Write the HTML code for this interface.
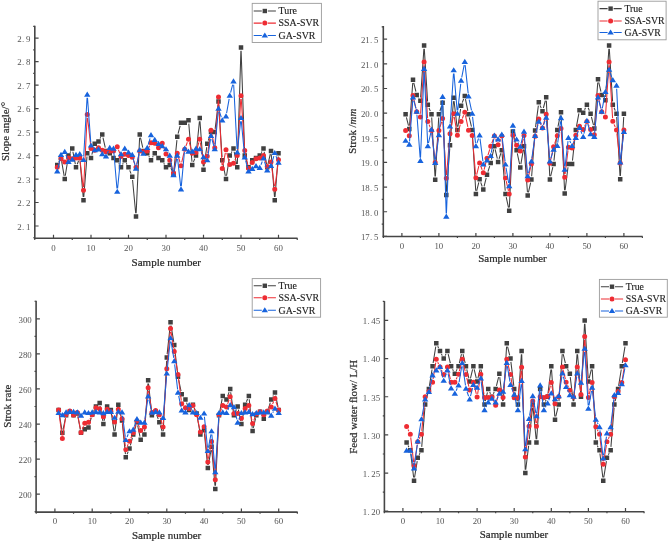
<!DOCTYPE html>
<html><head><meta charset="utf-8"><title>Prediction comparison</title>
<style>
html,body{margin:0;padding:0;background:#fff;}
body{width:669px;height:543px;overflow:hidden;font-family:"Liberation Serif",serif;}
svg{display:block;filter:blur(0.3px);}
</style></head><body>
<svg width="669" height="543" viewBox="0 0 669 543">
<rect width="669" height="543" fill="#fff"/>
<g stroke="#464646" stroke-width="1.6" fill="none" stroke-linecap="butt">
<path d="M34.80 25.80V238.90"/>
<path d="M34.20 238.30H297.55"/>
<path stroke-width="1.2" d="M53.50 238.30v-3.6M91.00 238.30v-3.6M128.50 238.30v-3.6M166.00 238.30v-3.6M203.50 238.30v-3.6M241.00 238.30v-3.6M278.50 238.30v-3.6M34.75 238.30v1.6M72.25 238.30v1.6M109.75 238.30v1.6M147.25 238.30v1.6M184.75 238.30v1.6M222.25 238.30v1.6M259.75 238.30v1.6M297.25 238.30v1.6M34.80 226.00h3.8M34.80 202.52h3.8M34.80 179.05h3.8M34.80 155.58h3.8M34.80 132.10h3.8M34.80 108.62h3.8M34.80 85.15h3.8M34.80 61.68h3.8M34.80 38.20h3.8M34.80 237.74h-1.6M34.80 214.26h-1.6M34.80 190.79h-1.6M34.80 167.31h-1.6M34.80 143.84h-1.6M34.80 120.36h-1.6M34.80 96.89h-1.6M34.80 73.41h-1.6M34.80 49.94h-1.6M34.80 26.46h-1.6"/>
</g>
<g fill="#555" font-family="Liberation Serif, serif">
<text x="53.50" y="250.90" font-size="8.9" text-anchor="middle">0</text>
<text x="88.83" y="250.90" font-size="8.9" text-anchor="middle">1</text><text x="93.17" y="250.90" font-size="8.9" text-anchor="middle">0</text>
<text x="126.33" y="250.90" font-size="8.9" text-anchor="middle">2</text><text x="130.68" y="250.90" font-size="8.9" text-anchor="middle">0</text>
<text x="163.83" y="250.90" font-size="8.9" text-anchor="middle">3</text><text x="168.18" y="250.90" font-size="8.9" text-anchor="middle">0</text>
<text x="201.33" y="250.90" font-size="8.9" text-anchor="middle">4</text><text x="205.68" y="250.90" font-size="8.9" text-anchor="middle">0</text>
<text x="238.83" y="250.90" font-size="8.9" text-anchor="middle">5</text><text x="243.18" y="250.90" font-size="8.9" text-anchor="middle">0</text>
<text x="276.32" y="250.90" font-size="8.9" text-anchor="middle">6</text><text x="280.68" y="250.90" font-size="8.9" text-anchor="middle">0</text>
<text x="19.53" y="229.80" font-size="8.9" text-anchor="middle">2</text><text x="22.00" y="229.80" font-size="8.9" text-anchor="start">.</text><text x="28.23" y="229.80" font-size="8.9" text-anchor="middle">1</text>
<text x="19.53" y="206.32" font-size="8.9" text-anchor="middle">2</text><text x="22.00" y="206.32" font-size="8.9" text-anchor="start">.</text><text x="28.23" y="206.32" font-size="8.9" text-anchor="middle">2</text>
<text x="19.53" y="182.85" font-size="8.9" text-anchor="middle">2</text><text x="22.00" y="182.85" font-size="8.9" text-anchor="start">.</text><text x="28.23" y="182.85" font-size="8.9" text-anchor="middle">3</text>
<text x="19.53" y="159.38" font-size="8.9" text-anchor="middle">2</text><text x="22.00" y="159.38" font-size="8.9" text-anchor="start">.</text><text x="28.23" y="159.38" font-size="8.9" text-anchor="middle">4</text>
<text x="19.53" y="135.90" font-size="8.9" text-anchor="middle">2</text><text x="22.00" y="135.90" font-size="8.9" text-anchor="start">.</text><text x="28.23" y="135.90" font-size="8.9" text-anchor="middle">5</text>
<text x="19.53" y="112.42" font-size="8.9" text-anchor="middle">2</text><text x="22.00" y="112.42" font-size="8.9" text-anchor="start">.</text><text x="28.23" y="112.42" font-size="8.9" text-anchor="middle">6</text>
<text x="19.53" y="88.95" font-size="8.9" text-anchor="middle">2</text><text x="22.00" y="88.95" font-size="8.9" text-anchor="start">.</text><text x="28.23" y="88.95" font-size="8.9" text-anchor="middle">7</text>
<text x="19.53" y="65.48" font-size="8.9" text-anchor="middle">2</text><text x="22.00" y="65.48" font-size="8.9" text-anchor="start">.</text><text x="28.23" y="65.48" font-size="8.9" text-anchor="middle">8</text>
<text x="19.53" y="42.00" font-size="8.9" text-anchor="middle">2</text><text x="22.00" y="42.00" font-size="8.9" text-anchor="start">.</text><text x="28.23" y="42.00" font-size="8.9" text-anchor="middle">9</text>
</g>
<g fill="#2a2a2a" stroke="#2a2a2a" stroke-width="0.22" font-family="Liberation Serif, serif" font-size="11.00">
<text x="166.30" y="265.70" text-anchor="middle">Sample number</text>
<text transform="translate(9.30 131.50) rotate(-90)" text-anchor="middle">Slope angle/°</text>
</g>
<path fill="none" stroke="#404040" stroke-width="1.05" d="M58.80 162.05L59.45 160.84M61.58 161.17L64.17 175.80M65.27 175.79L67.98 158.83M70.05 152.66L70.70 151.45M72.90 151.77L75.35 164.08M77.22 164.25L78.53 160.99M80.04 161.21L83.21 196.89M83.76 196.89L86.99 156.52M91.85 154.73L93.90 147.03M100.05 138.58L100.70 137.36M102.98 137.66L105.27 147.66M118.80 163.18L119.45 164.40M122.55 164.40L123.20 163.18M126.30 163.18L126.95 164.40M129.72 170.38L131.03 173.64M132.56 179.99L135.69 213.32M136.15 213.31L139.60 137.74M140.48 137.66L142.77 147.66M148.80 156.14L149.45 157.36M152.55 157.36L153.20 156.14M163.80 163.18L164.45 164.40M170.97 168.03L172.28 171.29M173.83 171.07L176.92 140.08M178.10 133.61L180.15 125.90M188.78 123.65L191.97 161.68M193.47 161.90L194.78 158.64M196.33 152.29L199.42 121.30M199.99 121.31L203.26 166.37M203.97 166.39L206.78 147.10M208.25 140.69L210.00 135.24M215.15 128.82L218.10 104.86M218.71 104.88L222.04 156.98M222.90 163.51L225.35 175.81M226.52 175.79L229.23 158.83M231.30 152.66L231.95 151.45M234.15 151.77L236.60 164.08M237.35 164.01L240.90 50.89M241.11 50.89L244.64 152.28M245.75 158.72L247.50 164.17M250.05 164.40L250.70 163.18M261.30 152.66L261.95 151.45M264.15 151.77L266.60 164.08M267.98 164.10L270.27 154.10M271.25 154.17L274.50 196.89M275.01 196.89L278.24 156.52"/>
<path fill="#404040" d="M55.00 162.72h4.5v4.5h-4.5zM58.75 155.67h4.5v4.5h-4.5zM62.50 176.80h4.5v4.5h-4.5zM66.25 153.33h4.5v4.5h-4.5zM70.00 146.28h4.5v4.5h-4.5zM73.75 165.06h4.5v4.5h-4.5zM77.50 155.67h4.5v4.5h-4.5zM81.25 197.93h4.5v4.5h-4.5zM85.00 150.98h4.5v4.5h-4.5zM88.75 155.67h4.5v4.5h-4.5zM92.50 141.59h4.5v4.5h-4.5zM96.25 139.24h4.5v4.5h-4.5zM100.00 132.20h4.5v4.5h-4.5zM103.75 148.63h4.5v4.5h-4.5zM107.50 150.98h4.5v4.5h-4.5zM111.25 155.67h4.5v4.5h-4.5zM115.00 158.02h4.5v4.5h-4.5zM118.75 165.06h4.5v4.5h-4.5zM122.50 158.02h4.5v4.5h-4.5zM126.25 165.06h4.5v4.5h-4.5zM130.00 174.45h4.5v4.5h-4.5zM133.75 214.36h4.5v4.5h-4.5zM137.50 132.20h4.5v4.5h-4.5zM141.25 148.63h4.5v4.5h-4.5zM145.00 150.98h4.5v4.5h-4.5zM148.75 158.02h4.5v4.5h-4.5zM152.50 150.98h4.5v4.5h-4.5zM156.25 155.67h4.5v4.5h-4.5zM160.00 158.02h4.5v4.5h-4.5zM163.75 165.06h4.5v4.5h-4.5zM167.50 162.72h4.5v4.5h-4.5zM171.25 172.11h4.5v4.5h-4.5zM175.00 134.55h4.5v4.5h-4.5zM178.75 120.46h4.5v4.5h-4.5zM182.50 120.46h4.5v4.5h-4.5zM186.25 118.11h4.5v4.5h-4.5zM190.00 162.72h4.5v4.5h-4.5zM193.75 153.33h4.5v4.5h-4.5zM197.50 115.77h4.5v4.5h-4.5zM201.25 167.41h4.5v4.5h-4.5zM205.00 141.59h4.5v4.5h-4.5zM208.75 129.85h4.5v4.5h-4.5zM212.50 129.85h4.5v4.5h-4.5zM216.25 99.33h4.5v4.5h-4.5zM220.00 158.02h4.5v4.5h-4.5zM223.75 176.80h4.5v4.5h-4.5zM227.50 153.33h4.5v4.5h-4.5zM231.25 146.28h4.5v4.5h-4.5zM235.00 165.06h4.5v4.5h-4.5zM238.75 45.34h4.5v4.5h-4.5zM242.50 153.33h4.5v4.5h-4.5zM246.25 165.06h4.5v4.5h-4.5zM250.00 158.02h4.5v4.5h-4.5zM253.75 155.67h4.5v4.5h-4.5zM257.50 153.33h4.5v4.5h-4.5zM261.25 146.28h4.5v4.5h-4.5zM265.00 165.06h4.5v4.5h-4.5zM268.75 148.63h4.5v4.5h-4.5zM272.50 197.93h4.5v4.5h-4.5zM276.25 150.98h4.5v4.5h-4.5z"/>
<path fill="none" stroke="#ee2c33" stroke-width="1.05" d="M58.59 164.30L59.66 161.88M80.13 161.20L83.12 187.04M83.66 187.02L87.09 117.79M87.61 117.77L90.64 145.25M118.42 149.74L119.83 153.43M133.40 160.31L134.85 164.22M136.73 164.10L139.02 154.10M148.62 147.88L149.63 145.67M163.33 146.25L164.92 150.81M167.68 156.77L168.07 157.43M170.70 163.43L172.55 169.55M174.12 169.47L176.63 156.47M178.20 156.39L180.05 162.51M181.73 162.45L184.02 152.45M185.90 146.14L187.35 142.24M189.35 142.33L191.40 150.04M196.89 149.35L198.86 142.32M200.29 142.40L202.96 158.66M207.72 153.01L210.53 133.49M211.69 133.45L214.06 144.60M214.99 144.54L218.26 100.18M218.67 100.18L222.08 165.19M222.90 165.25L225.35 152.94M226.81 152.91L228.94 161.30M234.94 160.35L235.81 158.55M237.46 152.28L240.79 99.01M241.23 99.01L244.52 147.12M245.43 153.64L247.82 165.02M264.56 158.70L266.19 163.48M271.45 165.18L274.30 185.88M275.17 185.87L278.08 163.07"/>
<path fill="#ee2c33" d="M54.75 167.31a2.5 2.5 0 1 0 5 0a2.5 2.5 0 1 0 -5 0zM58.50 158.86a2.5 2.5 0 1 0 5 0a2.5 2.5 0 1 0 -5 0zM62.25 161.91a2.5 2.5 0 1 0 5 0a2.5 2.5 0 1 0 -5 0zM66.00 157.92a2.5 2.5 0 1 0 5 0a2.5 2.5 0 1 0 -5 0zM69.75 158.86a2.5 2.5 0 1 0 5 0a2.5 2.5 0 1 0 -5 0zM73.50 157.92a2.5 2.5 0 1 0 5 0a2.5 2.5 0 1 0 -5 0zM77.25 157.92a2.5 2.5 0 1 0 5 0a2.5 2.5 0 1 0 -5 0zM81.00 190.32a2.5 2.5 0 1 0 5 0a2.5 2.5 0 1 0 -5 0zM84.75 114.49a2.5 2.5 0 1 0 5 0a2.5 2.5 0 1 0 -5 0zM88.50 148.53a2.5 2.5 0 1 0 5 0a2.5 2.5 0 1 0 -5 0zM92.25 150.18a2.5 2.5 0 1 0 5 0a2.5 2.5 0 1 0 -5 0zM96.00 147.83a2.5 2.5 0 1 0 5 0a2.5 2.5 0 1 0 -5 0zM99.75 150.18a2.5 2.5 0 1 0 5 0a2.5 2.5 0 1 0 -5 0zM103.50 151.82a2.5 2.5 0 1 0 5 0a2.5 2.5 0 1 0 -5 0zM107.25 150.88a2.5 2.5 0 1 0 5 0a2.5 2.5 0 1 0 -5 0zM111.00 150.88a2.5 2.5 0 1 0 5 0a2.5 2.5 0 1 0 -5 0zM114.75 146.65a2.5 2.5 0 1 0 5 0a2.5 2.5 0 1 0 -5 0zM118.50 156.51a2.5 2.5 0 1 0 5 0a2.5 2.5 0 1 0 -5 0zM122.25 154.17a2.5 2.5 0 1 0 5 0a2.5 2.5 0 1 0 -5 0zM126.00 155.58a2.5 2.5 0 1 0 5 0a2.5 2.5 0 1 0 -5 0zM129.75 157.22a2.5 2.5 0 1 0 5 0a2.5 2.5 0 1 0 -5 0zM133.50 167.31a2.5 2.5 0 1 0 5 0a2.5 2.5 0 1 0 -5 0zM137.25 150.88a2.5 2.5 0 1 0 5 0a2.5 2.5 0 1 0 -5 0zM141.00 151.82a2.5 2.5 0 1 0 5 0a2.5 2.5 0 1 0 -5 0zM144.75 150.88a2.5 2.5 0 1 0 5 0a2.5 2.5 0 1 0 -5 0zM148.50 142.66a2.5 2.5 0 1 0 5 0a2.5 2.5 0 1 0 -5 0zM152.25 143.37a2.5 2.5 0 1 0 5 0a2.5 2.5 0 1 0 -5 0zM156.00 147.83a2.5 2.5 0 1 0 5 0a2.5 2.5 0 1 0 -5 0zM159.75 143.13a2.5 2.5 0 1 0 5 0a2.5 2.5 0 1 0 -5 0zM163.50 153.93a2.5 2.5 0 1 0 5 0a2.5 2.5 0 1 0 -5 0zM167.25 160.27a2.5 2.5 0 1 0 5 0a2.5 2.5 0 1 0 -5 0zM171.00 172.71a2.5 2.5 0 1 0 5 0a2.5 2.5 0 1 0 -5 0zM174.75 153.23a2.5 2.5 0 1 0 5 0a2.5 2.5 0 1 0 -5 0zM178.50 165.67a2.5 2.5 0 1 0 5 0a2.5 2.5 0 1 0 -5 0zM182.25 149.24a2.5 2.5 0 1 0 5 0a2.5 2.5 0 1 0 -5 0zM186.00 139.14a2.5 2.5 0 1 0 5 0a2.5 2.5 0 1 0 -5 0zM189.75 153.23a2.5 2.5 0 1 0 5 0a2.5 2.5 0 1 0 -5 0zM193.50 152.52a2.5 2.5 0 1 0 5 0a2.5 2.5 0 1 0 -5 0zM197.25 139.14a2.5 2.5 0 1 0 5 0a2.5 2.5 0 1 0 -5 0zM201.00 161.91a2.5 2.5 0 1 0 5 0a2.5 2.5 0 1 0 -5 0zM204.75 156.28a2.5 2.5 0 1 0 5 0a2.5 2.5 0 1 0 -5 0zM208.50 130.22a2.5 2.5 0 1 0 5 0a2.5 2.5 0 1 0 -5 0zM212.25 147.83a2.5 2.5 0 1 0 5 0a2.5 2.5 0 1 0 -5 0zM216.00 96.89a2.5 2.5 0 1 0 5 0a2.5 2.5 0 1 0 -5 0zM219.75 168.49a2.5 2.5 0 1 0 5 0a2.5 2.5 0 1 0 -5 0zM223.50 149.71a2.5 2.5 0 1 0 5 0a2.5 2.5 0 1 0 -5 0zM227.25 164.50a2.5 2.5 0 1 0 5 0a2.5 2.5 0 1 0 -5 0zM231.00 163.32a2.5 2.5 0 1 0 5 0a2.5 2.5 0 1 0 -5 0zM234.75 155.58a2.5 2.5 0 1 0 5 0a2.5 2.5 0 1 0 -5 0zM238.50 95.71a2.5 2.5 0 1 0 5 0a2.5 2.5 0 1 0 -5 0zM242.25 150.41a2.5 2.5 0 1 0 5 0a2.5 2.5 0 1 0 -5 0zM246.00 168.25a2.5 2.5 0 1 0 5 0a2.5 2.5 0 1 0 -5 0zM249.75 162.62a2.5 2.5 0 1 0 5 0a2.5 2.5 0 1 0 -5 0zM253.50 158.86a2.5 2.5 0 1 0 5 0a2.5 2.5 0 1 0 -5 0zM257.25 157.92a2.5 2.5 0 1 0 5 0a2.5 2.5 0 1 0 -5 0zM261.00 155.58a2.5 2.5 0 1 0 5 0a2.5 2.5 0 1 0 -5 0zM264.75 166.61a2.5 2.5 0 1 0 5 0a2.5 2.5 0 1 0 -5 0zM268.50 161.91a2.5 2.5 0 1 0 5 0a2.5 2.5 0 1 0 -5 0zM272.25 189.14a2.5 2.5 0 1 0 5 0a2.5 2.5 0 1 0 -5 0zM276.00 159.80a2.5 2.5 0 1 0 5 0a2.5 2.5 0 1 0 -5 0z"/>
<path fill="none" stroke="#1763dd" stroke-width="1.05" d="M57.98 168.09L60.27 158.09M65.90 154.91L67.35 158.82M83.69 156.51L87.06 97.83M87.49 97.83L90.76 142.19M107.31 153.48L108.44 150.86M113.79 151.82L116.96 188.44M117.58 188.44L120.67 157.45M133.11 158.06L135.14 165.54M136.65 165.49L139.10 153.41M145.28 150.92L145.47 150.61M148.19 144.66L150.06 138.32M167.68 152.08L168.07 152.73M170.37 158.82L172.88 171.82M174.12 171.82L176.63 158.82M177.61 158.85L180.64 186.10M181.30 186.09L184.45 151.82M201.15 152.22L202.10 154.23M207.75 157.01L210.50 139.12M211.89 139.03L213.86 146.06M215.05 145.95L218.20 111.91M219.50 111.77L221.25 117.22M226.59 113.12L229.16 98.96M230.59 92.52L232.66 84.59M233.67 84.69L237.08 148.99M237.61 149.01L240.64 121.30M241.31 121.30L244.44 154.17M245.61 160.64L247.64 168.12M260.97 164.72L262.28 161.46M264.49 161.54L266.26 167.22M271.92 162.73L273.83 156.16M275.95 156.07L277.30 159.54"/>
<path fill="#1763dd" d="M57.25 168.20l3.2 5.2h-6.4zM61.00 151.77l3.2 5.2h-6.4zM64.75 148.72l3.2 5.2h-6.4zM68.50 158.81l3.2 5.2h-6.4zM72.25 156.47l3.2 5.2h-6.4zM76.00 151.77l3.2 5.2h-6.4zM79.75 151.07l3.2 5.2h-6.4zM83.50 156.70l3.2 5.2h-6.4zM87.25 91.44l3.2 5.2h-6.4zM91.00 142.38l3.2 5.2h-6.4zM94.75 147.08l3.2 5.2h-6.4zM98.50 146.37l3.2 5.2h-6.4zM102.25 151.07l3.2 5.2h-6.4zM106.00 153.41l3.2 5.2h-6.4zM109.75 144.73l3.2 5.2h-6.4zM113.50 145.43l3.2 5.2h-6.4zM117.25 188.63l3.2 5.2h-6.4zM121.00 151.07l3.2 5.2h-6.4zM124.75 145.43l3.2 5.2h-6.4zM128.50 149.42l3.2 5.2h-6.4zM132.25 151.77l3.2 5.2h-6.4zM136.00 165.62l3.2 5.2h-6.4zM139.75 147.08l3.2 5.2h-6.4zM143.50 150.60l3.2 5.2h-6.4zM147.25 144.73l3.2 5.2h-6.4zM151.00 132.05l3.2 5.2h-6.4zM154.75 136.75l3.2 5.2h-6.4zM158.50 140.74l3.2 5.2h-6.4zM162.25 143.09l3.2 5.2h-6.4zM166.00 146.14l3.2 5.2h-6.4zM169.75 152.48l3.2 5.2h-6.4zM173.50 171.96l3.2 5.2h-6.4zM177.25 152.48l3.2 5.2h-6.4zM181.00 186.28l3.2 5.2h-6.4zM184.75 145.43l3.2 5.2h-6.4zM188.50 148.48l3.2 5.2h-6.4zM192.25 148.48l3.2 5.2h-6.4zM196.00 145.43l3.2 5.2h-6.4zM199.75 146.14l3.2 5.2h-6.4zM203.50 154.12l3.2 5.2h-6.4zM207.25 157.17l3.2 5.2h-6.4zM211.00 132.76l3.2 5.2h-6.4zM214.75 146.14l3.2 5.2h-6.4zM218.50 105.53l3.2 5.2h-6.4zM222.25 117.26l3.2 5.2h-6.4zM226.00 113.27l3.2 5.2h-6.4zM229.75 92.61l3.2 5.2h-6.4zM233.50 78.29l3.2 5.2h-6.4zM237.25 149.19l3.2 5.2h-6.4zM241.00 114.92l3.2 5.2h-6.4zM244.75 154.35l3.2 5.2h-6.4zM248.50 168.20l3.2 5.2h-6.4zM252.25 165.86l3.2 5.2h-6.4zM256.00 163.04l3.2 5.2h-6.4zM259.75 164.68l3.2 5.2h-6.4zM263.50 155.29l3.2 5.2h-6.4zM267.25 167.26l3.2 5.2h-6.4zM271.00 162.80l3.2 5.2h-6.4zM274.75 149.89l3.2 5.2h-6.4zM278.50 159.52l3.2 5.2h-6.4z"/>
<rect x="252.20" y="3.35" width="69.20" height="39.15" fill="#fff" stroke="#9a9a9a" stroke-width="0.9"/>
<path stroke="#404040" stroke-width="1.05" d="M253.70 11.00H261.80M267.80 11.00H275.90"/>
<path fill="#404040" d="M262.60 8.80h4.4v4.4h-4.4z"/>
<text x="278.60" y="14.30" font-family="Liberation Serif, serif" font-size="9.90" fill="#1e1e1e" stroke="#1e1e1e" stroke-width="0.15">Ture</text>
<path stroke="#ee2c33" stroke-width="1.05" d="M253.70 23.10H261.80M267.80 23.10H275.90"/>
<path fill="#ee2c33" d="M262.30 23.10a2.5 2.5 0 1 0 5 0a2.5 2.5 0 1 0 -5 0z"/>
<text x="278.60" y="26.40" font-family="Liberation Serif, serif" font-size="9.90" fill="#1e1e1e" stroke="#1e1e1e" stroke-width="0.15">SSA-SVR</text>
<path stroke="#1763dd" stroke-width="1.05" d="M253.70 35.40H261.80M267.80 35.40H275.90"/>
<path fill="#1763dd" d="M264.80 32.40l3.2 5h-6.4z"/>
<text x="278.60" y="38.70" font-family="Liberation Serif, serif" font-size="9.90" fill="#1e1e1e" stroke="#1e1e1e" stroke-width="0.15">GA-SVR</text>
<g stroke="#464646" stroke-width="1.6" fill="none" stroke-linecap="butt">
<path d="M383.30 26.00V237.10"/>
<path d="M382.70 236.50H642.70"/>
<path stroke-width="1.2" d="M401.90 236.50v-3.6M438.90 236.50v-3.6M475.90 236.50v-3.6M512.90 236.50v-3.6M549.90 236.50v-3.6M586.90 236.50v-3.6M623.90 236.50v-3.6M383.40 236.50v1.6M420.40 236.50v1.6M457.40 236.50v1.6M494.40 236.50v1.6M531.40 236.50v1.6M568.40 236.50v1.6M605.40 236.50v1.6M642.40 236.50v1.6M383.30 236.40h3.8M383.30 211.75h3.8M383.30 187.10h3.8M383.30 162.45h3.8M383.30 137.80h3.8M383.30 113.15h3.8M383.30 88.50h3.8M383.30 63.85h3.8M383.30 39.20h3.8M383.30 224.08h-1.6M383.30 199.43h-1.6M383.30 174.78h-1.6M383.30 150.12h-1.6M383.30 125.48h-1.6M383.30 100.83h-1.6M383.30 76.18h-1.6M383.30 51.53h-1.6M383.30 26.88h-1.6"/>
</g>
<g fill="#555" font-family="Liberation Serif, serif">
<text x="401.90" y="249.10" font-size="8.8" text-anchor="middle">0</text>
<text x="436.75" y="249.10" font-size="8.8" text-anchor="middle">1</text><text x="441.05" y="249.10" font-size="8.8" text-anchor="middle">0</text>
<text x="473.75" y="249.10" font-size="8.8" text-anchor="middle">2</text><text x="478.05" y="249.10" font-size="8.8" text-anchor="middle">0</text>
<text x="510.75" y="249.10" font-size="8.8" text-anchor="middle">3</text><text x="515.05" y="249.10" font-size="8.8" text-anchor="middle">0</text>
<text x="547.75" y="249.10" font-size="8.8" text-anchor="middle">4</text><text x="552.05" y="249.10" font-size="8.8" text-anchor="middle">0</text>
<text x="584.75" y="249.10" font-size="8.8" text-anchor="middle">5</text><text x="589.05" y="249.10" font-size="8.8" text-anchor="middle">0</text>
<text x="621.75" y="249.10" font-size="8.8" text-anchor="middle">6</text><text x="626.05" y="249.10" font-size="8.8" text-anchor="middle">0</text>
<text x="363.27" y="240.20" font-size="8.8" text-anchor="middle">1</text><text x="367.57" y="240.20" font-size="8.8" text-anchor="middle">7</text><text x="370.01" y="240.20" font-size="8.8" text-anchor="start">.</text><text x="376.15" y="240.20" font-size="8.8" text-anchor="middle">5</text>
<text x="363.27" y="215.55" font-size="8.8" text-anchor="middle">1</text><text x="367.57" y="215.55" font-size="8.8" text-anchor="middle">8</text><text x="370.01" y="215.55" font-size="8.8" text-anchor="start">.</text><text x="376.15" y="215.55" font-size="8.8" text-anchor="middle">0</text>
<text x="363.27" y="190.90" font-size="8.8" text-anchor="middle">1</text><text x="367.57" y="190.90" font-size="8.8" text-anchor="middle">8</text><text x="370.01" y="190.90" font-size="8.8" text-anchor="start">.</text><text x="376.15" y="190.90" font-size="8.8" text-anchor="middle">5</text>
<text x="363.27" y="166.25" font-size="8.8" text-anchor="middle">1</text><text x="367.57" y="166.25" font-size="8.8" text-anchor="middle">9</text><text x="370.01" y="166.25" font-size="8.8" text-anchor="start">.</text><text x="376.15" y="166.25" font-size="8.8" text-anchor="middle">0</text>
<text x="363.27" y="141.60" font-size="8.8" text-anchor="middle">1</text><text x="367.57" y="141.60" font-size="8.8" text-anchor="middle">9</text><text x="370.01" y="141.60" font-size="8.8" text-anchor="start">.</text><text x="376.15" y="141.60" font-size="8.8" text-anchor="middle">5</text>
<text x="363.27" y="116.95" font-size="8.8" text-anchor="middle">2</text><text x="367.57" y="116.95" font-size="8.8" text-anchor="middle">0</text><text x="370.01" y="116.95" font-size="8.8" text-anchor="start">.</text><text x="376.15" y="116.95" font-size="8.8" text-anchor="middle">0</text>
<text x="363.27" y="92.30" font-size="8.8" text-anchor="middle">2</text><text x="367.57" y="92.30" font-size="8.8" text-anchor="middle">0</text><text x="370.01" y="92.30" font-size="8.8" text-anchor="start">.</text><text x="376.15" y="92.30" font-size="8.8" text-anchor="middle">5</text>
<text x="363.27" y="67.65" font-size="8.8" text-anchor="middle">2</text><text x="367.57" y="67.65" font-size="8.8" text-anchor="middle">1</text><text x="370.01" y="67.65" font-size="8.8" text-anchor="start">.</text><text x="376.15" y="67.65" font-size="8.8" text-anchor="middle">0</text>
<text x="363.27" y="43.00" font-size="8.8" text-anchor="middle">2</text><text x="367.57" y="43.00" font-size="8.8" text-anchor="middle">1</text><text x="370.01" y="43.00" font-size="8.8" text-anchor="start">.</text><text x="376.15" y="43.00" font-size="8.8" text-anchor="middle">5</text>
</g>
<g fill="#2a2a2a" stroke="#2a2a2a" stroke-width="0.22" font-family="Liberation Serif, serif" font-size="10.86">
<text x="512.50" y="262.40" text-anchor="middle">Sample number</text>
<text transform="translate(356.10 131.20) rotate(-90)" text-anchor="middle">Strok /<tspan font-style="italic">mm</tspan></text>
</g>
<path fill="none" stroke="#404040" stroke-width="1.05" d="M406.40 117.34L408.50 125.72M409.55 125.64L412.75 82.92M413.78 82.83L415.92 91.70M418.45 97.71L418.65 98.03M420.62 97.53L423.88 48.90M424.31 48.90L427.59 101.48M429.01 107.84L430.29 111.07M431.69 117.43L435.01 176.41M435.39 176.41L438.71 117.43M439.92 111.00L441.58 105.93M442.73 106.09L446.17 191.69M446.54 191.70L449.76 148.49M450.26 141.91L453.44 101.16M454.08 101.15L457.02 126.63M457.90 126.65L460.60 109.02M462.26 102.67L463.64 98.98M465.46 99.13L467.84 110.90M469.25 117.35L471.45 126.70M472.39 133.21L475.71 190.71M476.70 190.80L478.80 182.41M480.71 182.32L482.19 186.46M484.10 186.36L486.20 177.98M487.98 171.63L489.72 166.09M491.41 159.72L493.69 149.40M495.15 149.39L497.35 158.74M499.08 158.81L500.82 153.27M502.08 153.41L505.22 190.71M506.21 197.22L508.49 207.54M509.35 207.47L512.75 134.69M513.54 134.63L515.96 146.89M517.29 153.35L519.61 164.15M520.87 164.13L523.43 149.43M524.25 149.47L527.45 192.19M528.44 192.27L530.66 182.67M531.65 176.17L534.85 133.70M535.53 127.13L538.37 105.58M540.07 105.35L541.23 108.13M543.35 107.99L545.35 100.56M546.35 100.67L549.75 176.16M550.66 176.25L552.84 167.14M553.96 160.65L556.94 133.19M557.97 126.68L560.33 115.39M561.15 115.46L564.55 190.21M565.11 190.23L567.99 167.20M572.46 160.65L575.44 133.19M576.41 126.67L578.89 113.44M584.60 109.67L585.50 107.76M588.17 107.81L589.33 110.60M591.40 116.84L593.50 125.23M594.55 125.14L597.75 82.42M598.75 82.35L600.95 91.70M605.62 97.04L608.88 48.90M609.31 48.90L612.59 101.48M614.07 107.81L615.23 110.60M616.69 116.94L620.01 175.92M620.39 175.92L623.71 116.94"/>
<path fill="#404040" d="M403.35 111.89h4.5v4.5h-4.5zM407.05 126.68h4.5v4.5h-4.5zM410.75 77.38h4.5v4.5h-4.5zM414.45 92.66h4.5v4.5h-4.5zM418.15 98.58h4.5v4.5h-4.5zM421.85 43.36h4.5v4.5h-4.5zM425.55 102.52h4.5v4.5h-4.5zM429.25 111.89h4.5v4.5h-4.5zM432.95 177.46h4.5v4.5h-4.5zM436.65 111.89h4.5v4.5h-4.5zM440.35 100.55h4.5v4.5h-4.5zM444.05 192.74h4.5v4.5h-4.5zM447.75 142.94h4.5v4.5h-4.5zM451.45 95.62h4.5v4.5h-4.5zM455.15 127.66h4.5v4.5h-4.5zM458.85 103.51h4.5v4.5h-4.5zM462.55 93.64h4.5v4.5h-4.5zM466.25 111.89h4.5v4.5h-4.5zM469.95 127.66h4.5v4.5h-4.5zM473.65 191.75h4.5v4.5h-4.5zM477.35 176.96h4.5v4.5h-4.5zM481.05 187.32h4.5v4.5h-4.5zM484.75 172.53h4.5v4.5h-4.5zM488.45 160.69h4.5v4.5h-4.5zM492.15 143.93h4.5v4.5h-4.5zM495.85 159.71h4.5v4.5h-4.5zM499.55 147.88h4.5v4.5h-4.5zM503.25 191.75h4.5v4.5h-4.5zM506.95 208.51h4.5v4.5h-4.5zM510.65 129.14h4.5v4.5h-4.5zM514.35 147.88h4.5v4.5h-4.5zM518.05 165.13h4.5v4.5h-4.5zM521.75 143.93h4.5v4.5h-4.5zM525.45 193.23h4.5v4.5h-4.5zM529.15 177.21h4.5v4.5h-4.5zM532.85 128.16h4.5v4.5h-4.5zM536.55 100.05h4.5v4.5h-4.5zM540.25 108.93h4.5v4.5h-4.5zM543.95 95.12h4.5v4.5h-4.5zM547.65 177.21h4.5v4.5h-4.5zM551.35 161.68h4.5v4.5h-4.5zM555.05 127.66h4.5v4.5h-4.5zM558.75 109.91h4.5v4.5h-4.5zM562.45 191.26h4.5v4.5h-4.5zM566.15 161.68h4.5v4.5h-4.5zM569.85 161.68h4.5v4.5h-4.5zM573.55 127.66h4.5v4.5h-4.5zM577.25 107.94h4.5v4.5h-4.5zM580.95 110.41h4.5v4.5h-4.5zM584.65 102.52h4.5v4.5h-4.5zM588.35 111.39h4.5v4.5h-4.5zM592.05 126.18h4.5v4.5h-4.5zM595.75 76.88h4.5v4.5h-4.5zM599.45 92.66h4.5v4.5h-4.5zM603.15 98.08h4.5v4.5h-4.5zM606.85 43.36h4.5v4.5h-4.5zM610.55 102.52h4.5v4.5h-4.5zM614.25 111.39h4.5v4.5h-4.5zM617.95 176.96h4.5v4.5h-4.5zM621.65 111.39h4.5v4.5h-4.5z"/>
<path fill="none" stroke="#ee2c33" stroke-width="1.05" d="M409.60 132.54L412.70 98.69M413.73 98.62L415.97 108.45M420.62 113.80L423.88 65.17M424.30 65.17L427.60 118.24M429.07 124.58L430.23 127.36M431.88 133.68L434.82 159.17M435.58 159.17L438.52 133.68M439.88 127.26L441.62 121.72M442.80 121.87L446.10 174.93M446.57 174.94L449.73 137.14M450.59 130.61L453.11 116.89M454.25 116.90L456.85 132.08M458.25 132.15L460.25 124.72M462.31 118.46L463.59 115.23M465.46 115.40L467.84 126.93M472.49 138.87L475.61 174.45M476.70 174.53L478.80 166.14M480.76 166.03L482.14 169.71M484.11 169.60L486.19 161.46M487.97 155.10L489.73 149.34M491.83 143.08L493.27 139.17M495.70 139.11L496.80 141.67M499.40 141.67L500.50 139.11M502.09 139.36L505.21 174.59M506.24 181.10L508.46 190.79M509.41 190.71L512.69 138.63M514.06 138.42L515.44 142.11M518.35 147.99L518.55 148.31M521.06 147.90L523.24 138.69M524.27 138.77L527.43 176.66M528.44 176.74L530.66 167.14M531.84 160.66L534.66 139.59M535.79 133.09L538.11 122.29M540.07 122.11L541.23 124.89M543.35 124.75L545.35 117.32M546.45 117.43L549.65 160.00M550.62 160.07L552.88 149.90M554.67 143.55L556.23 138.95M558.78 132.88L559.52 131.38M561.25 131.72L564.45 173.95M565.10 173.96L568.00 150.44M573.03 144.74L574.87 138.50M577.04 132.28L578.26 129.27M584.60 126.43L585.50 124.52M588.30 124.52L589.20 126.43M594.61 131.56L597.69 98.69M598.73 98.62L600.97 108.45M605.62 113.80L608.88 65.17M609.31 65.17L612.59 117.99M614.08 124.33L615.22 127.07M616.87 133.39L619.83 159.81M620.57 159.81L623.53 133.19"/>
<path fill="#ee2c33" d="M403.10 130.41a2.5 2.5 0 1 0 5 0a2.5 2.5 0 1 0 -5 0zM406.80 135.83a2.5 2.5 0 1 0 5 0a2.5 2.5 0 1 0 -5 0zM410.50 95.40a2.5 2.5 0 1 0 5 0a2.5 2.5 0 1 0 -5 0zM414.20 111.67a2.5 2.5 0 1 0 5 0a2.5 2.5 0 1 0 -5 0zM417.90 117.09a2.5 2.5 0 1 0 5 0a2.5 2.5 0 1 0 -5 0zM421.60 61.88a2.5 2.5 0 1 0 5 0a2.5 2.5 0 1 0 -5 0zM425.30 121.53a2.5 2.5 0 1 0 5 0a2.5 2.5 0 1 0 -5 0zM429.00 130.41a2.5 2.5 0 1 0 5 0a2.5 2.5 0 1 0 -5 0zM432.70 162.45a2.5 2.5 0 1 0 5 0a2.5 2.5 0 1 0 -5 0zM436.40 130.41a2.5 2.5 0 1 0 5 0a2.5 2.5 0 1 0 -5 0zM440.10 118.57a2.5 2.5 0 1 0 5 0a2.5 2.5 0 1 0 -5 0zM443.80 178.23a2.5 2.5 0 1 0 5 0a2.5 2.5 0 1 0 -5 0zM447.50 133.86a2.5 2.5 0 1 0 5 0a2.5 2.5 0 1 0 -5 0zM451.20 113.64a2.5 2.5 0 1 0 5 0a2.5 2.5 0 1 0 -5 0zM454.90 135.33a2.5 2.5 0 1 0 5 0a2.5 2.5 0 1 0 -5 0zM458.60 121.53a2.5 2.5 0 1 0 5 0a2.5 2.5 0 1 0 -5 0zM462.30 112.16a2.5 2.5 0 1 0 5 0a2.5 2.5 0 1 0 -5 0zM466.00 130.16a2.5 2.5 0 1 0 5 0a2.5 2.5 0 1 0 -5 0zM469.70 135.58a2.5 2.5 0 1 0 5 0a2.5 2.5 0 1 0 -5 0zM473.40 177.73a2.5 2.5 0 1 0 5 0a2.5 2.5 0 1 0 -5 0zM477.10 162.94a2.5 2.5 0 1 0 5 0a2.5 2.5 0 1 0 -5 0zM480.80 172.80a2.5 2.5 0 1 0 5 0a2.5 2.5 0 1 0 -5 0zM484.50 158.26a2.5 2.5 0 1 0 5 0a2.5 2.5 0 1 0 -5 0zM488.20 146.18a2.5 2.5 0 1 0 5 0a2.5 2.5 0 1 0 -5 0zM491.90 136.07a2.5 2.5 0 1 0 5 0a2.5 2.5 0 1 0 -5 0zM495.60 144.70a2.5 2.5 0 1 0 5 0a2.5 2.5 0 1 0 -5 0zM499.30 136.07a2.5 2.5 0 1 0 5 0a2.5 2.5 0 1 0 -5 0zM503.00 177.88a2.5 2.5 0 1 0 5 0a2.5 2.5 0 1 0 -5 0zM506.70 194.00a2.5 2.5 0 1 0 5 0a2.5 2.5 0 1 0 -5 0zM510.40 135.33a2.5 2.5 0 1 0 5 0a2.5 2.5 0 1 0 -5 0zM514.10 145.19a2.5 2.5 0 1 0 5 0a2.5 2.5 0 1 0 -5 0zM517.80 151.11a2.5 2.5 0 1 0 5 0a2.5 2.5 0 1 0 -5 0zM521.50 135.48a2.5 2.5 0 1 0 5 0a2.5 2.5 0 1 0 -5 0zM525.20 179.95a2.5 2.5 0 1 0 5 0a2.5 2.5 0 1 0 -5 0zM528.90 163.93a2.5 2.5 0 1 0 5 0a2.5 2.5 0 1 0 -5 0zM532.60 136.32a2.5 2.5 0 1 0 5 0a2.5 2.5 0 1 0 -5 0zM536.30 119.07a2.5 2.5 0 1 0 5 0a2.5 2.5 0 1 0 -5 0zM540.00 127.94a2.5 2.5 0 1 0 5 0a2.5 2.5 0 1 0 -5 0zM543.70 114.14a2.5 2.5 0 1 0 5 0a2.5 2.5 0 1 0 -5 0zM547.40 163.29a2.5 2.5 0 1 0 5 0a2.5 2.5 0 1 0 -5 0zM551.10 146.67a2.5 2.5 0 1 0 5 0a2.5 2.5 0 1 0 -5 0zM554.80 135.83a2.5 2.5 0 1 0 5 0a2.5 2.5 0 1 0 -5 0zM558.50 128.43a2.5 2.5 0 1 0 5 0a2.5 2.5 0 1 0 -5 0zM562.20 177.24a2.5 2.5 0 1 0 5 0a2.5 2.5 0 1 0 -5 0zM565.90 147.17a2.5 2.5 0 1 0 5 0a2.5 2.5 0 1 0 -5 0zM569.60 147.91a2.5 2.5 0 1 0 5 0a2.5 2.5 0 1 0 -5 0zM573.30 135.33a2.5 2.5 0 1 0 5 0a2.5 2.5 0 1 0 -5 0zM577.00 126.21a2.5 2.5 0 1 0 5 0a2.5 2.5 0 1 0 -5 0zM580.70 129.42a2.5 2.5 0 1 0 5 0a2.5 2.5 0 1 0 -5 0zM584.40 121.53a2.5 2.5 0 1 0 5 0a2.5 2.5 0 1 0 -5 0zM588.10 129.42a2.5 2.5 0 1 0 5 0a2.5 2.5 0 1 0 -5 0zM591.80 134.84a2.5 2.5 0 1 0 5 0a2.5 2.5 0 1 0 -5 0zM595.50 95.40a2.5 2.5 0 1 0 5 0a2.5 2.5 0 1 0 -5 0zM599.20 111.67a2.5 2.5 0 1 0 5 0a2.5 2.5 0 1 0 -5 0zM602.90 117.09a2.5 2.5 0 1 0 5 0a2.5 2.5 0 1 0 -5 0zM606.60 61.88a2.5 2.5 0 1 0 5 0a2.5 2.5 0 1 0 -5 0zM610.30 121.28a2.5 2.5 0 1 0 5 0a2.5 2.5 0 1 0 -5 0zM614.00 130.11a2.5 2.5 0 1 0 5 0a2.5 2.5 0 1 0 -5 0zM617.70 163.09a2.5 2.5 0 1 0 5 0a2.5 2.5 0 1 0 -5 0zM621.40 129.91a2.5 2.5 0 1 0 5 0a2.5 2.5 0 1 0 -5 0z"/>
<path fill="none" stroke="#1763dd" stroke-width="1.05" d="M409.56 141.41L412.74 100.66M413.83 100.57L415.87 108.48M416.95 114.96L420.15 157.68M420.53 157.67L423.97 72.08M424.26 72.08L427.64 142.88M428.52 142.96L430.78 132.89M431.86 132.95L434.84 159.66M435.63 159.67L438.47 138.36M439.22 131.80L442.28 100.17M442.70 100.18L446.20 213.38M446.44 213.38L449.86 129.76M450.22 123.17L453.48 73.55M453.98 73.55L457.12 110.35M457.77 110.36L460.73 83.89M461.74 77.37L464.16 65.12M465.15 65.16L468.15 93.11M469.19 99.61L471.51 110.42M472.57 116.92L475.53 142.90M476.97 143.06L478.53 138.46M480.02 138.61L482.88 161.15M491.29 152.65L493.81 138.83M502.20 137.87L505.10 161.25M506.05 167.77L508.65 182.96M509.40 182.92L512.70 129.02M513.76 128.91L515.74 136.29M518.13 142.40L518.77 143.65M521.09 143.37L523.21 134.84M524.27 134.93L527.43 172.97M528.50 173.05L530.60 164.67M531.87 158.20L534.63 139.09M535.93 132.63L537.97 124.73M540.45 124.39L540.85 125.08M543.61 124.83L545.09 120.69M546.48 120.88L549.62 158.18M550.88 158.31L552.62 152.78M557.73 142.66L560.57 121.35M561.24 121.37L564.46 166.45M565.08 166.47L568.02 141.08M569.77 140.80L570.73 142.93M573.49 142.94L574.41 140.94M576.94 134.85L578.36 131.04M580.77 130.99L581.93 133.77M583.94 133.60L586.16 124.01M587.79 123.97L589.71 130.87M594.61 133.53L597.69 100.66M598.83 100.57L600.87 108.48M602.31 108.43L604.79 95.19M605.94 88.70L608.56 73.02M610.21 72.87L611.69 77.01M616.66 88.84L620.04 159.15M620.60 159.17L623.50 135.16"/>
<path fill="#1763dd" d="M405.60 137.66l3.2 5.2h-6.4zM409.30 141.60l3.2 5.2h-6.4zM413.00 94.27l3.2 5.2h-6.4zM416.70 108.57l3.2 5.2h-6.4zM420.40 157.87l3.2 5.2h-6.4zM424.10 65.68l3.2 5.2h-6.4zM427.80 143.08l3.2 5.2h-6.4zM431.50 126.57l3.2 5.2h-6.4zM435.20 159.84l3.2 5.2h-6.4zM438.90 131.99l3.2 5.2h-6.4zM442.60 93.78l3.2 5.2h-6.4zM446.30 213.58l3.2 5.2h-6.4zM450.00 123.36l3.2 5.2h-6.4zM453.70 67.16l3.2 5.2h-6.4zM457.40 110.54l3.2 5.2h-6.4zM461.10 77.51l3.2 5.2h-6.4zM464.80 58.78l3.2 5.2h-6.4zM468.50 93.29l3.2 5.2h-6.4zM472.20 110.54l3.2 5.2h-6.4zM475.90 143.08l3.2 5.2h-6.4zM479.60 132.23l3.2 5.2h-6.4zM483.30 161.32l3.2 5.2h-6.4zM487.00 157.38l3.2 5.2h-6.4zM490.70 152.79l3.2 5.2h-6.4zM494.40 132.48l3.2 5.2h-6.4zM498.10 136.18l3.2 5.2h-6.4zM501.80 131.50l3.2 5.2h-6.4zM505.50 161.42l3.2 5.2h-6.4zM509.20 183.11l3.2 5.2h-6.4zM512.90 122.62l3.2 5.2h-6.4zM516.60 136.38l3.2 5.2h-6.4zM520.30 143.48l3.2 5.2h-6.4zM524.00 128.54l3.2 5.2h-6.4zM527.70 173.15l3.2 5.2h-6.4zM531.40 158.36l3.2 5.2h-6.4zM535.10 132.73l3.2 5.2h-6.4zM538.80 118.43l3.2 5.2h-6.4zM542.50 124.84l3.2 5.2h-6.4zM546.20 114.49l3.2 5.2h-6.4zM549.90 158.36l3.2 5.2h-6.4zM553.60 146.53l3.2 5.2h-6.4zM557.30 142.83l3.2 5.2h-6.4zM561.00 114.98l3.2 5.2h-6.4zM564.70 166.65l3.2 5.2h-6.4zM568.40 134.70l3.2 5.2h-6.4zM572.10 142.83l3.2 5.2h-6.4zM575.80 134.85l3.2 5.2h-6.4zM579.50 124.84l3.2 5.2h-6.4zM583.20 133.71l3.2 5.2h-6.4zM586.90 117.69l3.2 5.2h-6.4zM590.60 130.95l3.2 5.2h-6.4zM594.30 133.71l3.2 5.2h-6.4zM598.00 94.27l3.2 5.2h-6.4zM601.70 108.57l3.2 5.2h-6.4zM605.40 88.85l3.2 5.2h-6.4zM609.10 66.67l3.2 5.2h-6.4zM612.80 77.02l3.2 5.2h-6.4zM616.50 82.44l3.2 5.2h-6.4zM620.20 159.35l3.2 5.2h-6.4zM623.90 128.78l3.2 5.2h-6.4z"/>
<rect x="598.00" y="1.20" width="68.10" height="38.60" fill="#fff" stroke="#9a9a9a" stroke-width="0.9"/>
<path stroke="#404040" stroke-width="1.05" d="M599.50 8.60H607.60M613.60 8.60H621.70"/>
<path fill="#404040" d="M608.40 6.40h4.4v4.4h-4.4z"/>
<text x="624.40" y="11.90" font-family="Liberation Serif, serif" font-size="9.77" fill="#1e1e1e" stroke="#1e1e1e" stroke-width="0.15">True</text>
<path stroke="#ee2c33" stroke-width="1.05" d="M599.50 20.90H607.60M613.60 20.90H621.70"/>
<path fill="#ee2c33" d="M608.10 20.90a2.5 2.5 0 1 0 5 0a2.5 2.5 0 1 0 -5 0z"/>
<text x="624.40" y="24.20" font-family="Liberation Serif, serif" font-size="9.77" fill="#1e1e1e" stroke="#1e1e1e" stroke-width="0.15">SSA-SVR</text>
<path stroke="#1763dd" stroke-width="1.05" d="M599.50 32.50H607.60M613.60 32.50H621.70"/>
<path fill="#1763dd" d="M610.60 29.50l3.2 5h-6.4z"/>
<text x="624.40" y="35.80" font-family="Liberation Serif, serif" font-size="9.77" fill="#1e1e1e" stroke="#1e1e1e" stroke-width="0.15">GA-SVR</text>
<g stroke="#464646" stroke-width="1.6" fill="none" stroke-linecap="butt">
<path d="M36.10 300.70V512.70"/>
<path d="M35.50 512.10H297.65"/>
<path stroke-width="1.2" d="M54.90 512.10v-3.6M92.20 512.10v-3.6M129.50 512.10v-3.6M166.80 512.10v-3.6M204.10 512.10v-3.6M241.40 512.10v-3.6M278.70 512.10v-3.6M36.25 512.10v1.6M73.55 512.10v1.6M110.85 512.10v1.6M148.15 512.10v1.6M185.45 512.10v1.6M222.75 512.10v1.6M260.05 512.10v1.6M297.35 512.10v1.6M36.10 494.20h3.8M36.10 459.12h3.8M36.10 424.04h3.8M36.10 388.96h3.8M36.10 353.88h3.8M36.10 318.80h3.8M36.10 511.74h-1.6M36.10 476.66h-1.6M36.10 441.58h-1.6M36.10 406.50h-1.6M36.10 371.42h-1.6M36.10 336.34h-1.6M36.10 301.26h-1.6"/>
</g>
<g fill="#555" font-family="Liberation Serif, serif">
<text x="54.90" y="524.30" font-size="8.9" text-anchor="middle">0</text>
<text x="90.02" y="524.30" font-size="8.9" text-anchor="middle">1</text><text x="94.37" y="524.30" font-size="8.9" text-anchor="middle">0</text>
<text x="127.33" y="524.30" font-size="8.9" text-anchor="middle">2</text><text x="131.68" y="524.30" font-size="8.9" text-anchor="middle">0</text>
<text x="164.63" y="524.30" font-size="8.9" text-anchor="middle">3</text><text x="168.98" y="524.30" font-size="8.9" text-anchor="middle">0</text>
<text x="201.93" y="524.30" font-size="8.9" text-anchor="middle">4</text><text x="206.28" y="524.30" font-size="8.9" text-anchor="middle">0</text>
<text x="239.23" y="524.30" font-size="8.9" text-anchor="middle">5</text><text x="243.58" y="524.30" font-size="8.9" text-anchor="middle">0</text>
<text x="276.52" y="524.30" font-size="8.9" text-anchor="middle">6</text><text x="280.88" y="524.30" font-size="8.9" text-anchor="middle">0</text>
<text x="20.83" y="498.00" font-size="8.9" text-anchor="middle">2</text><text x="25.18" y="498.00" font-size="8.9" text-anchor="middle">0</text><text x="29.53" y="498.00" font-size="8.9" text-anchor="middle">0</text>
<text x="20.83" y="462.92" font-size="8.9" text-anchor="middle">2</text><text x="25.18" y="462.92" font-size="8.9" text-anchor="middle">2</text><text x="29.53" y="462.92" font-size="8.9" text-anchor="middle">0</text>
<text x="20.83" y="427.84" font-size="8.9" text-anchor="middle">2</text><text x="25.18" y="427.84" font-size="8.9" text-anchor="middle">4</text><text x="29.53" y="427.84" font-size="8.9" text-anchor="middle">0</text>
<text x="20.83" y="392.76" font-size="8.9" text-anchor="middle">2</text><text x="25.18" y="392.76" font-size="8.9" text-anchor="middle">6</text><text x="29.53" y="392.76" font-size="8.9" text-anchor="middle">0</text>
<text x="20.83" y="357.68" font-size="8.9" text-anchor="middle">2</text><text x="25.18" y="357.68" font-size="8.9" text-anchor="middle">8</text><text x="29.53" y="357.68" font-size="8.9" text-anchor="middle">0</text>
<text x="20.83" y="322.60" font-size="8.9" text-anchor="middle">3</text><text x="25.18" y="322.60" font-size="8.9" text-anchor="middle">0</text><text x="29.53" y="322.60" font-size="8.9" text-anchor="middle">0</text>
</g>
<g fill="#2a2a2a" stroke="#2a2a2a" stroke-width="0.22" font-family="Liberation Serif, serif" font-size="11.00">
<text x="166.60" y="538.70" text-anchor="middle">Sample number</text>
<text transform="translate(11.30 406.20) rotate(-90)" text-anchor="middle">Strok rate</text>
</g>
<path fill="none" stroke="#404040" stroke-width="1.05" d="M59.16 413.26L61.83 429.55M63.05 429.58L65.40 418.50M77.91 416.76L80.38 429.57M89.37 424.37L91.30 417.57M93.61 411.41L94.52 409.48M100.24 406.24L102.81 420.79M104.08 420.81L106.43 409.73M111.35 413.27L114.08 431.30M114.99 431.29L117.90 408.02M119.07 407.96L121.28 417.32M122.37 423.82L125.44 454.08M127.06 454.33L128.21 451.63M130.35 445.41L132.38 437.75M134.19 431.41L136.00 425.44M137.65 425.51L140.00 436.60M144.65 431.27L147.92 383.48M148.50 383.47L151.53 411.99M156.71 414.87L158.24 419.18M160.30 425.44L162.11 431.41M163.23 431.27L166.64 360.68M167.15 354.11L170.18 325.59M171.06 325.56L173.73 341.85M174.65 348.39L177.60 373.40M178.68 379.91L181.03 390.99M186.55 402.59L188.08 406.90M194.20 407.78L195.35 410.48M197.22 416.77L199.79 431.31M204.42 433.46L207.51 464.61M208.41 464.64L210.98 450.09M211.85 450.13L215.00 485.65M215.46 485.64L218.85 418.57M219.65 412.03L222.12 399.22M227.58 396.37L229.11 392.07M230.67 392.23L233.48 412.00M235.23 412.23L236.38 409.54M238.36 409.73L240.71 420.81M242.03 420.80L244.50 407.99M246.42 401.71L247.57 399.01M249.21 399.26L252.24 427.77M253.35 427.84L255.56 418.48M261.60 414.68L262.23 415.86M265.33 415.86L265.96 414.68M268.47 408.60L270.28 402.64M272.79 396.57L273.42 395.38M275.66 395.70L278.01 406.78"/>
<path fill="#404040" d="M56.38 407.76h4.5v4.5h-4.5zM60.11 430.56h4.5v4.5h-4.5zM63.84 413.02h4.5v4.5h-4.5zM67.57 409.51h4.5v4.5h-4.5zM71.30 413.02h4.5v4.5h-4.5zM75.03 411.27h4.5v4.5h-4.5zM78.76 430.56h4.5v4.5h-4.5zM82.49 427.05h4.5v4.5h-4.5zM86.22 425.30h4.5v4.5h-4.5zM89.95 412.14h4.5v4.5h-4.5zM93.68 404.25h4.5v4.5h-4.5zM97.41 400.74h4.5v4.5h-4.5zM101.14 421.79h4.5v4.5h-4.5zM104.87 404.25h4.5v4.5h-4.5zM108.60 407.76h4.5v4.5h-4.5zM112.33 432.31h4.5v4.5h-4.5zM116.06 402.50h4.5v4.5h-4.5zM119.79 418.28h4.5v4.5h-4.5zM123.52 455.12h4.5v4.5h-4.5zM127.25 446.35h4.5v4.5h-4.5zM130.98 432.31h4.5v4.5h-4.5zM134.71 420.04h4.5v4.5h-4.5zM138.44 437.58h4.5v4.5h-4.5zM142.17 432.31h4.5v4.5h-4.5zM145.90 377.94h4.5v4.5h-4.5zM149.63 413.02h4.5v4.5h-4.5zM153.36 409.51h4.5v4.5h-4.5zM157.09 420.04h4.5v4.5h-4.5zM160.82 432.31h4.5v4.5h-4.5zM164.55 355.14h4.5v4.5h-4.5zM168.28 320.06h4.5v4.5h-4.5zM172.01 342.86h4.5v4.5h-4.5zM175.74 374.43h4.5v4.5h-4.5zM179.47 391.97h4.5v4.5h-4.5zM183.20 397.23h4.5v4.5h-4.5zM186.93 407.76h4.5v4.5h-4.5zM190.66 402.50h4.5v4.5h-4.5zM194.39 411.27h4.5v4.5h-4.5zM198.12 432.31h4.5v4.5h-4.5zM201.85 427.93h4.5v4.5h-4.5zM205.58 465.64h4.5v4.5h-4.5zM209.31 444.59h4.5v4.5h-4.5zM213.04 486.69h4.5v4.5h-4.5zM216.77 413.02h4.5v4.5h-4.5zM220.50 393.73h4.5v4.5h-4.5zM224.23 397.23h4.5v4.5h-4.5zM227.96 386.71h4.5v4.5h-4.5zM231.69 413.02h4.5v4.5h-4.5zM235.42 404.25h4.5v4.5h-4.5zM239.15 421.79h4.5v4.5h-4.5zM242.88 402.50h4.5v4.5h-4.5zM246.61 393.73h4.5v4.5h-4.5zM250.34 428.81h4.5v4.5h-4.5zM254.07 413.02h4.5v4.5h-4.5zM257.80 409.51h4.5v4.5h-4.5zM261.53 416.53h4.5v4.5h-4.5zM265.26 409.51h4.5v4.5h-4.5zM268.99 397.23h4.5v4.5h-4.5zM272.72 390.22h4.5v4.5h-4.5zM276.45 407.76h4.5v4.5h-4.5z"/>
<path fill="none" stroke="#ee2c33" stroke-width="1.05" d="M59.06 413.28L61.93 435.33M62.87 435.34L65.58 418.00M77.89 415.71L80.40 429.22M82.24 429.40L83.51 426.23M89.93 419.33L90.74 417.70M93.75 411.83L94.38 410.64M101.07 411.76L101.98 413.69M104.88 413.73L105.63 412.25M111.99 414.86L113.44 418.84M115.51 418.77L117.38 412.47M119.52 412.38L120.83 415.71M122.44 422.05L125.37 446.37M127.11 446.63L128.16 444.25M130.84 438.21L131.89 435.83M134.23 429.66L135.96 424.20M138.17 424.13L139.48 427.46M144.73 423.74L147.84 391.02M148.64 391.00L151.39 409.20M160.30 417.90L162.11 423.86M163.28 423.73L166.59 372.08M167.10 365.50L170.23 331.73M171.05 331.70L173.74 348.34M174.79 354.86L177.46 371.15M178.40 377.68L181.31 400.60M194.14 408.51L195.41 411.68M197.34 417.97L199.67 428.71M204.45 429.95L207.48 458.64M208.42 458.68L210.97 444.65M211.88 444.69L214.97 476.36M215.48 476.35L218.83 418.04M220.25 411.68L221.52 408.51M227.62 403.93L229.07 399.95M230.93 400.07L233.22 410.30M242.59 415.17L243.94 411.68M249.53 408.68L251.92 420.28M253.80 420.44L255.11 417.11M272.58 404.01L273.63 401.62M276.00 401.74L277.67 406.87"/>
<path fill="#ee2c33" d="M56.13 410.01a2.5 2.5 0 1 0 5 0a2.5 2.5 0 1 0 -5 0zM59.86 438.60a2.5 2.5 0 1 0 5 0a2.5 2.5 0 1 0 -5 0zM63.59 414.74a2.5 2.5 0 1 0 5 0a2.5 2.5 0 1 0 -5 0zM67.32 410.88a2.5 2.5 0 1 0 5 0a2.5 2.5 0 1 0 -5 0zM71.05 415.09a2.5 2.5 0 1 0 5 0a2.5 2.5 0 1 0 -5 0zM74.78 412.46a2.5 2.5 0 1 0 5 0a2.5 2.5 0 1 0 -5 0zM78.51 432.46a2.5 2.5 0 1 0 5 0a2.5 2.5 0 1 0 -5 0zM82.24 423.16a2.5 2.5 0 1 0 5 0a2.5 2.5 0 1 0 -5 0zM85.97 422.29a2.5 2.5 0 1 0 5 0a2.5 2.5 0 1 0 -5 0zM89.70 414.74a2.5 2.5 0 1 0 5 0a2.5 2.5 0 1 0 -5 0zM93.43 407.73a2.5 2.5 0 1 0 5 0a2.5 2.5 0 1 0 -5 0zM97.16 408.78a2.5 2.5 0 1 0 5 0a2.5 2.5 0 1 0 -5 0zM100.89 416.67a2.5 2.5 0 1 0 5 0a2.5 2.5 0 1 0 -5 0zM104.62 409.31a2.5 2.5 0 1 0 5 0a2.5 2.5 0 1 0 -5 0zM108.35 411.76a2.5 2.5 0 1 0 5 0a2.5 2.5 0 1 0 -5 0zM112.08 421.94a2.5 2.5 0 1 0 5 0a2.5 2.5 0 1 0 -5 0zM115.81 409.31a2.5 2.5 0 1 0 5 0a2.5 2.5 0 1 0 -5 0zM119.54 418.78a2.5 2.5 0 1 0 5 0a2.5 2.5 0 1 0 -5 0zM123.27 449.65a2.5 2.5 0 1 0 5 0a2.5 2.5 0 1 0 -5 0zM127.00 441.23a2.5 2.5 0 1 0 5 0a2.5 2.5 0 1 0 -5 0zM130.73 432.81a2.5 2.5 0 1 0 5 0a2.5 2.5 0 1 0 -5 0zM134.46 421.06a2.5 2.5 0 1 0 5 0a2.5 2.5 0 1 0 -5 0zM138.19 430.53a2.5 2.5 0 1 0 5 0a2.5 2.5 0 1 0 -5 0zM141.92 427.02a2.5 2.5 0 1 0 5 0a2.5 2.5 0 1 0 -5 0zM145.65 387.73a2.5 2.5 0 1 0 5 0a2.5 2.5 0 1 0 -5 0zM149.38 412.46a2.5 2.5 0 1 0 5 0a2.5 2.5 0 1 0 -5 0zM153.11 410.53a2.5 2.5 0 1 0 5 0a2.5 2.5 0 1 0 -5 0zM156.84 414.74a2.5 2.5 0 1 0 5 0a2.5 2.5 0 1 0 -5 0zM160.57 427.02a2.5 2.5 0 1 0 5 0a2.5 2.5 0 1 0 -5 0zM164.30 368.79a2.5 2.5 0 1 0 5 0a2.5 2.5 0 1 0 -5 0zM168.03 328.45a2.5 2.5 0 1 0 5 0a2.5 2.5 0 1 0 -5 0zM171.76 351.60a2.5 2.5 0 1 0 5 0a2.5 2.5 0 1 0 -5 0zM175.49 374.40a2.5 2.5 0 1 0 5 0a2.5 2.5 0 1 0 -5 0zM179.22 403.87a2.5 2.5 0 1 0 5 0a2.5 2.5 0 1 0 -5 0zM182.95 407.73a2.5 2.5 0 1 0 5 0a2.5 2.5 0 1 0 -5 0zM186.68 408.60a2.5 2.5 0 1 0 5 0a2.5 2.5 0 1 0 -5 0zM190.41 405.45a2.5 2.5 0 1 0 5 0a2.5 2.5 0 1 0 -5 0zM194.14 414.74a2.5 2.5 0 1 0 5 0a2.5 2.5 0 1 0 -5 0zM197.87 431.93a2.5 2.5 0 1 0 5 0a2.5 2.5 0 1 0 -5 0zM201.60 426.67a2.5 2.5 0 1 0 5 0a2.5 2.5 0 1 0 -5 0zM205.33 461.93a2.5 2.5 0 1 0 5 0a2.5 2.5 0 1 0 -5 0zM209.06 441.40a2.5 2.5 0 1 0 5 0a2.5 2.5 0 1 0 -5 0zM212.79 479.64a2.5 2.5 0 1 0 5 0a2.5 2.5 0 1 0 -5 0zM216.52 414.74a2.5 2.5 0 1 0 5 0a2.5 2.5 0 1 0 -5 0zM220.25 405.45a2.5 2.5 0 1 0 5 0a2.5 2.5 0 1 0 -5 0zM223.98 407.03a2.5 2.5 0 1 0 5 0a2.5 2.5 0 1 0 -5 0zM227.71 396.85a2.5 2.5 0 1 0 5 0a2.5 2.5 0 1 0 -5 0zM231.44 413.52a2.5 2.5 0 1 0 5 0a2.5 2.5 0 1 0 -5 0zM235.17 413.52a2.5 2.5 0 1 0 5 0a2.5 2.5 0 1 0 -5 0zM238.90 418.25a2.5 2.5 0 1 0 5 0a2.5 2.5 0 1 0 -5 0zM242.63 408.60a2.5 2.5 0 1 0 5 0a2.5 2.5 0 1 0 -5 0zM246.36 405.45a2.5 2.5 0 1 0 5 0a2.5 2.5 0 1 0 -5 0zM250.09 423.51a2.5 2.5 0 1 0 5 0a2.5 2.5 0 1 0 -5 0zM253.82 414.04a2.5 2.5 0 1 0 5 0a2.5 2.5 0 1 0 -5 0zM257.55 411.76a2.5 2.5 0 1 0 5 0a2.5 2.5 0 1 0 -5 0zM261.28 414.74a2.5 2.5 0 1 0 5 0a2.5 2.5 0 1 0 -5 0zM265.01 410.88a2.5 2.5 0 1 0 5 0a2.5 2.5 0 1 0 -5 0zM268.74 407.03a2.5 2.5 0 1 0 5 0a2.5 2.5 0 1 0 -5 0zM272.47 398.61a2.5 2.5 0 1 0 5 0a2.5 2.5 0 1 0 -5 0zM276.20 410.01a2.5 2.5 0 1 0 5 0a2.5 2.5 0 1 0 -5 0z"/>
<path fill="none" stroke="#1763dd" stroke-width="1.05" d="M116.33 414.93L116.56 414.56M122.48 415.73L125.33 436.73M127.06 436.96L128.21 434.27M134.33 426.54L135.86 422.24M144.88 419.37L147.69 399.59M148.89 399.54L151.14 409.42M163.35 414.61L166.52 376.81M167.15 370.24L170.18 341.55M171.06 341.53L173.73 357.81M174.65 364.35L177.60 389.37M178.67 395.87L181.04 407.13M186.94 409.52L187.69 408.04M190.67 408.04L191.42 409.52M204.43 416.80L207.50 447.59M208.45 447.63L210.94 434.47M211.86 434.52L214.99 468.81M215.50 468.81L218.81 416.28M227.89 410.01L228.80 408.08M234.71 410.24L236.90 419.43M238.86 419.56L240.21 416.07M272.79 412.71L273.42 411.52"/>
<path fill="#1763dd" d="M58.63 409.89l3.2 5.2h-6.4zM62.36 411.99l3.2 5.2h-6.4zM66.09 409.36l3.2 5.2h-6.4zM69.82 408.66l3.2 5.2h-6.4zM73.55 408.84l3.2 5.2h-6.4zM77.28 409.36l3.2 5.2h-6.4zM81.01 412.52l3.2 5.2h-6.4zM84.74 409.36l3.2 5.2h-6.4zM88.47 409.89l3.2 5.2h-6.4zM92.20 409.36l3.2 5.2h-6.4zM95.93 408.84l3.2 5.2h-6.4zM99.66 409.36l3.2 5.2h-6.4zM103.39 410.07l3.2 5.2h-6.4zM107.12 408.84l3.2 5.2h-6.4zM110.85 408.84l3.2 5.2h-6.4zM114.58 414.63l3.2 5.2h-6.4zM118.31 408.66l3.2 5.2h-6.4zM122.04 409.36l3.2 5.2h-6.4zM125.77 436.90l3.2 5.2h-6.4zM129.50 428.13l3.2 5.2h-6.4zM133.23 426.55l3.2 5.2h-6.4zM136.96 416.03l3.2 5.2h-6.4zM140.69 419.54l3.2 5.2h-6.4zM144.42 419.54l3.2 5.2h-6.4zM148.15 393.23l3.2 5.2h-6.4zM151.88 409.54l3.2 5.2h-6.4zM155.61 408.84l3.2 5.2h-6.4zM159.34 409.36l3.2 5.2h-6.4zM163.07 414.80l3.2 5.2h-6.4zM166.80 370.42l3.2 5.2h-6.4zM170.53 335.17l3.2 5.2h-6.4zM174.26 357.97l3.2 5.2h-6.4zM177.99 389.54l3.2 5.2h-6.4zM181.72 407.26l3.2 5.2h-6.4zM185.45 409.36l3.2 5.2h-6.4zM189.18 402.00l3.2 5.2h-6.4zM192.91 409.36l3.2 5.2h-6.4zM196.64 409.89l3.2 5.2h-6.4zM200.37 414.63l3.2 5.2h-6.4zM204.10 410.42l3.2 5.2h-6.4zM207.83 447.78l3.2 5.2h-6.4zM211.56 428.13l3.2 5.2h-6.4zM215.29 469.00l3.2 5.2h-6.4zM219.02 409.89l3.2 5.2h-6.4zM222.75 409.36l3.2 5.2h-6.4zM226.48 409.89l3.2 5.2h-6.4zM230.21 402.00l3.2 5.2h-6.4zM233.94 403.93l3.2 5.2h-6.4zM237.67 419.54l3.2 5.2h-6.4zM241.40 409.89l3.2 5.2h-6.4zM245.13 409.36l3.2 5.2h-6.4zM248.86 408.84l3.2 5.2h-6.4zM252.59 410.94l3.2 5.2h-6.4zM256.32 409.89l3.2 5.2h-6.4zM260.05 409.36l3.2 5.2h-6.4zM263.78 409.36l3.2 5.2h-6.4zM267.51 409.36l3.2 5.2h-6.4zM271.24 412.52l3.2 5.2h-6.4zM274.97 405.50l3.2 5.2h-6.4zM278.70 409.89l3.2 5.2h-6.4z"/>
<rect x="252.20" y="278.60" width="68.40" height="38.60" fill="#fff" stroke="#9a9a9a" stroke-width="0.9"/>
<path stroke="#404040" stroke-width="1.05" d="M253.70 285.75H261.80M267.80 285.75H275.90"/>
<path fill="#404040" d="M262.60 283.55h4.4v4.4h-4.4z"/>
<text x="278.60" y="289.05" font-family="Liberation Serif, serif" font-size="9.90" fill="#1e1e1e" stroke="#1e1e1e" stroke-width="0.15">True</text>
<path stroke="#ee2c33" stroke-width="1.05" d="M253.70 297.70H261.80M267.80 297.70H275.90"/>
<path fill="#ee2c33" d="M262.30 297.70a2.5 2.5 0 1 0 5 0a2.5 2.5 0 1 0 -5 0z"/>
<text x="278.60" y="301.00" font-family="Liberation Serif, serif" font-size="9.90" fill="#1e1e1e" stroke="#1e1e1e" stroke-width="0.15">SSA-SVR</text>
<path stroke="#1763dd" stroke-width="1.05" d="M253.70 310.30H261.80M267.80 310.30H275.90"/>
<path fill="#1763dd" d="M264.80 307.30l3.2 5h-6.4z"/>
<text x="278.60" y="313.60" font-family="Liberation Serif, serif" font-size="9.90" fill="#1e1e1e" stroke="#1e1e1e" stroke-width="0.15">GA-SVR</text>
<g stroke="#464646" stroke-width="1.6" fill="none" stroke-linecap="butt">
<path d="M384.40 301.10V512.30"/>
<path d="M383.80 511.70H644.35"/>
<path stroke-width="1.2" d="M402.90 511.70v-3.6M440.00 511.70v-3.6M477.10 511.70v-3.6M514.20 511.70v-3.6M551.30 511.70v-3.6M588.40 511.70v-3.6M625.50 511.70v-3.6M384.35 511.70v1.6M421.45 511.70v1.6M458.55 511.70v1.6M495.65 511.70v1.6M532.75 511.70v1.6M569.85 511.70v1.6M606.95 511.70v1.6M644.05 511.70v1.6M384.40 511.20h3.8M384.40 473.05h3.8M384.40 434.90h3.8M384.40 396.75h3.8M384.40 358.60h3.8M384.40 320.45h3.8M384.40 492.12h-1.6M384.40 453.98h-1.6M384.40 415.82h-1.6M384.40 377.67h-1.6M384.40 339.52h-1.6M384.40 301.37h-1.6"/>
</g>
<g fill="#555" font-family="Liberation Serif, serif">
<text x="402.90" y="523.90" font-size="8.8" text-anchor="middle">0</text>
<text x="437.85" y="523.90" font-size="8.8" text-anchor="middle">1</text><text x="442.15" y="523.90" font-size="8.8" text-anchor="middle">0</text>
<text x="474.95" y="523.90" font-size="8.8" text-anchor="middle">2</text><text x="479.25" y="523.90" font-size="8.8" text-anchor="middle">0</text>
<text x="512.05" y="523.90" font-size="8.8" text-anchor="middle">3</text><text x="516.35" y="523.90" font-size="8.8" text-anchor="middle">0</text>
<text x="549.15" y="523.90" font-size="8.8" text-anchor="middle">4</text><text x="553.45" y="523.90" font-size="8.8" text-anchor="middle">0</text>
<text x="586.25" y="523.90" font-size="8.8" text-anchor="middle">5</text><text x="590.55" y="523.90" font-size="8.8" text-anchor="middle">0</text>
<text x="623.35" y="523.90" font-size="8.8" text-anchor="middle">6</text><text x="627.65" y="523.90" font-size="8.8" text-anchor="middle">0</text>
<text x="364.97" y="515.00" font-size="8.8" text-anchor="middle">1</text><text x="367.42" y="515.00" font-size="8.8" text-anchor="start">.</text><text x="373.56" y="515.00" font-size="8.8" text-anchor="middle">2</text><text x="377.85" y="515.00" font-size="8.8" text-anchor="middle">0</text>
<text x="364.97" y="476.85" font-size="8.8" text-anchor="middle">1</text><text x="367.42" y="476.85" font-size="8.8" text-anchor="start">.</text><text x="373.56" y="476.85" font-size="8.8" text-anchor="middle">2</text><text x="377.85" y="476.85" font-size="8.8" text-anchor="middle">5</text>
<text x="364.97" y="438.70" font-size="8.8" text-anchor="middle">1</text><text x="367.42" y="438.70" font-size="8.8" text-anchor="start">.</text><text x="373.56" y="438.70" font-size="8.8" text-anchor="middle">3</text><text x="377.85" y="438.70" font-size="8.8" text-anchor="middle">0</text>
<text x="364.97" y="400.55" font-size="8.8" text-anchor="middle">1</text><text x="367.42" y="400.55" font-size="8.8" text-anchor="start">.</text><text x="373.56" y="400.55" font-size="8.8" text-anchor="middle">3</text><text x="377.85" y="400.55" font-size="8.8" text-anchor="middle">5</text>
<text x="364.97" y="362.40" font-size="8.8" text-anchor="middle">1</text><text x="367.42" y="362.40" font-size="8.8" text-anchor="start">.</text><text x="373.56" y="362.40" font-size="8.8" text-anchor="middle">4</text><text x="377.85" y="362.40" font-size="8.8" text-anchor="middle">0</text>
<text x="364.97" y="324.25" font-size="8.8" text-anchor="middle">1</text><text x="367.42" y="324.25" font-size="8.8" text-anchor="start">.</text><text x="373.56" y="324.25" font-size="8.8" text-anchor="middle">4</text><text x="377.85" y="324.25" font-size="8.8" text-anchor="middle">5</text>
</g>
<g fill="#2a2a2a" stroke="#2a2a2a" stroke-width="0.22" font-family="Liberation Serif, serif" font-size="10.86">
<text x="514.00" y="537.90" text-anchor="middle">Sample number</text>
<text transform="translate(357.30 406.80) rotate(-90)" text-anchor="middle">Feed water flow/ L/H</text>
</g>
<path fill="none" stroke="#404040" stroke-width="1.05" d="M408.05 445.50L408.88 447.19M410.72 453.44L413.63 477.40M414.56 477.42L417.21 461.05M419.18 454.82L420.01 453.13M421.72 446.87L424.89 407.67M425.94 401.17L428.09 392.33M429.40 385.86L432.05 369.49M433.11 362.97L435.76 346.60M437.73 346.31L438.56 348.00M441.44 353.94L442.27 355.63M445.15 355.63L445.98 353.94M448.20 354.18L450.35 363.02M452.57 369.20L453.40 370.89M456.28 370.89L457.11 369.20M459.33 363.02L461.48 354.18M463.04 354.18L465.19 363.02M466.75 369.44L468.90 378.28M470.46 378.28L472.61 369.44M474.17 369.44L476.32 378.28M477.88 378.28L480.03 369.44M481.13 369.51L484.20 401.10M485.30 401.17L487.45 392.33M489.67 392.09L490.50 393.78M493.38 393.78L494.21 392.09M496.43 385.91L498.58 377.07M499.76 377.14L502.67 401.10M503.27 401.09L506.58 346.63M507.56 346.55L509.71 355.39M510.89 361.88L513.80 385.84M514.98 392.33L517.13 401.17M518.14 401.09L521.39 354.26M521.72 354.27L525.23 469.75M525.73 469.77L528.64 445.81M529.36 439.25L532.43 407.66M533.07 407.66L536.14 439.25M536.69 439.24L539.94 392.41M540.95 392.33L543.10 401.17M545.32 401.41L546.15 399.72M547.99 393.47L550.90 369.51M551.53 369.52L554.78 416.35M555.79 416.43L557.94 407.59M558.95 401.09L562.20 354.26M563.21 354.18L565.36 363.02M567.58 369.20L568.41 370.89M570.25 377.14L573.16 401.10M573.79 401.09L577.04 354.26M577.54 354.26L580.71 393.46M581.14 393.45L584.53 323.75M584.89 323.74L588.20 378.20M589.18 378.28L591.33 369.44M592.27 369.53L595.66 439.23M597.26 445.50L598.09 447.19M599.93 453.44L602.84 477.40M603.77 477.42L606.42 461.05M608.39 454.82L609.22 453.13M610.93 446.87L614.10 407.67M615.15 401.17L617.30 392.33M618.61 385.86L621.26 369.49M622.32 362.97L624.97 346.60"/>
<path fill="#404040" d="M404.36 440.28h4.5v4.5h-4.5zM408.07 447.91h4.5v4.5h-4.5zM411.78 478.43h4.5v4.5h-4.5zM415.49 455.54h4.5v4.5h-4.5zM419.20 447.91h4.5v4.5h-4.5zM422.91 402.13h4.5v4.5h-4.5zM426.62 386.87h4.5v4.5h-4.5zM430.33 363.98h4.5v4.5h-4.5zM434.04 341.09h4.5v4.5h-4.5zM437.75 348.72h4.5v4.5h-4.5zM441.46 356.35h4.5v4.5h-4.5zM445.17 348.72h4.5v4.5h-4.5zM448.88 363.98h4.5v4.5h-4.5zM452.59 371.61h4.5v4.5h-4.5zM456.30 363.98h4.5v4.5h-4.5zM460.01 348.72h4.5v4.5h-4.5zM463.72 363.98h4.5v4.5h-4.5zM467.43 379.24h4.5v4.5h-4.5zM471.14 363.98h4.5v4.5h-4.5zM474.85 379.24h4.5v4.5h-4.5zM478.56 363.98h4.5v4.5h-4.5zM482.27 402.13h4.5v4.5h-4.5zM485.98 386.87h4.5v4.5h-4.5zM489.69 394.50h4.5v4.5h-4.5zM493.40 386.87h4.5v4.5h-4.5zM497.11 371.61h4.5v4.5h-4.5zM500.82 402.13h4.5v4.5h-4.5zM504.53 341.09h4.5v4.5h-4.5zM508.24 356.35h4.5v4.5h-4.5zM511.95 386.87h4.5v4.5h-4.5zM515.66 402.13h4.5v4.5h-4.5zM519.37 348.72h4.5v4.5h-4.5zM523.08 470.80h4.5v4.5h-4.5zM526.79 440.28h4.5v4.5h-4.5zM530.50 402.13h4.5v4.5h-4.5zM534.21 440.28h4.5v4.5h-4.5zM537.92 386.87h4.5v4.5h-4.5zM541.63 402.13h4.5v4.5h-4.5zM545.34 394.50h4.5v4.5h-4.5zM549.05 363.98h4.5v4.5h-4.5zM552.76 417.39h4.5v4.5h-4.5zM556.47 402.13h4.5v4.5h-4.5zM560.18 348.72h4.5v4.5h-4.5zM563.89 363.98h4.5v4.5h-4.5zM567.60 371.61h4.5v4.5h-4.5zM571.31 402.13h4.5v4.5h-4.5zM575.02 348.72h4.5v4.5h-4.5zM578.73 394.50h4.5v4.5h-4.5zM582.44 318.20h4.5v4.5h-4.5zM586.15 379.24h4.5v4.5h-4.5zM589.86 363.98h4.5v4.5h-4.5zM593.57 440.28h4.5v4.5h-4.5zM597.28 447.91h4.5v4.5h-4.5zM600.99 478.43h4.5v4.5h-4.5zM604.70 455.54h4.5v4.5h-4.5zM608.41 447.91h4.5v4.5h-4.5zM612.12 402.13h4.5v4.5h-4.5zM615.83 386.87h4.5v4.5h-4.5zM619.54 363.98h4.5v4.5h-4.5zM623.25 341.09h4.5v4.5h-4.5z"/>
<path fill="none" stroke="#ee2c33" stroke-width="1.05" d="M408.05 429.47L408.88 431.17M410.71 437.41L413.64 462.14M414.54 462.16L417.23 445.03M419.18 438.80L420.01 437.10M421.78 430.85L424.83 400.03M430.11 388.35L431.34 385.31M433.11 379.00L435.76 362.62M437.73 362.33L438.56 364.03M441.44 369.96L442.27 371.66M445.15 371.66L445.98 369.96M448.20 370.20L450.35 379.05M456.23 379.26L457.16 377.24M459.35 371.04L461.46 362.56M463.04 362.57L465.19 371.42M466.75 377.83L468.90 386.68M471.12 386.92L471.95 385.22M474.19 385.45L476.30 393.85M477.63 393.80L480.28 377.50M481.33 377.50L484.00 394.25M493.32 400.05L494.27 402.14M496.43 401.94L498.58 393.09M500.80 392.85L501.63 394.55M503.39 394.23L506.46 362.65M507.56 362.57L509.71 371.42M511.01 377.88L513.68 394.56M518.31 394.54L521.22 370.50M521.76 370.52L525.19 453.73M525.72 453.75L528.65 429.48M529.52 422.94L532.27 404.21M533.23 404.21L535.98 422.94M536.87 422.93L539.76 400.02M548.45 393.03L550.44 385.59M551.86 385.66L554.45 400.52M556.55 400.85L557.18 399.67M559.13 393.48L562.02 370.27M563.21 370.20L565.36 379.05M567.53 385.25L568.46 387.27M571.43 393.16L571.98 394.16M573.96 393.78L576.87 370.27M577.71 370.26L580.54 391.19M581.19 391.17L584.48 339.77M584.89 339.77L588.20 394.22M589.19 394.31L591.32 385.76M592.39 385.85L595.54 423.45M597.30 429.69L598.05 431.19M599.93 437.41L602.84 461.08M603.77 461.10L606.42 445.02M608.39 438.80L609.22 437.10M610.99 430.85L614.04 400.03M619.36 388.37L620.51 385.60M622.32 379.30L624.97 363.00"/>
<path fill="#ee2c33" d="M404.11 426.51a2.5 2.5 0 1 0 5 0a2.5 2.5 0 1 0 -5 0zM407.82 434.14a2.5 2.5 0 1 0 5 0a2.5 2.5 0 1 0 -5 0zM411.53 465.42a2.5 2.5 0 1 0 5 0a2.5 2.5 0 1 0 -5 0zM415.24 441.77a2.5 2.5 0 1 0 5 0a2.5 2.5 0 1 0 -5 0zM418.95 434.14a2.5 2.5 0 1 0 5 0a2.5 2.5 0 1 0 -5 0zM422.66 396.75a2.5 2.5 0 1 0 5 0a2.5 2.5 0 1 0 -5 0zM426.37 391.41a2.5 2.5 0 1 0 5 0a2.5 2.5 0 1 0 -5 0zM430.08 382.25a2.5 2.5 0 1 0 5 0a2.5 2.5 0 1 0 -5 0zM433.79 359.36a2.5 2.5 0 1 0 5 0a2.5 2.5 0 1 0 -5 0zM437.50 366.99a2.5 2.5 0 1 0 5 0a2.5 2.5 0 1 0 -5 0zM441.21 374.62a2.5 2.5 0 1 0 5 0a2.5 2.5 0 1 0 -5 0zM444.92 366.99a2.5 2.5 0 1 0 5 0a2.5 2.5 0 1 0 -5 0zM448.63 382.25a2.5 2.5 0 1 0 5 0a2.5 2.5 0 1 0 -5 0zM452.34 382.25a2.5 2.5 0 1 0 5 0a2.5 2.5 0 1 0 -5 0zM456.05 374.24a2.5 2.5 0 1 0 5 0a2.5 2.5 0 1 0 -5 0zM459.76 359.36a2.5 2.5 0 1 0 5 0a2.5 2.5 0 1 0 -5 0zM463.47 374.62a2.5 2.5 0 1 0 5 0a2.5 2.5 0 1 0 -5 0zM467.18 389.88a2.5 2.5 0 1 0 5 0a2.5 2.5 0 1 0 -5 0zM470.89 382.25a2.5 2.5 0 1 0 5 0a2.5 2.5 0 1 0 -5 0zM474.60 397.06a2.5 2.5 0 1 0 5 0a2.5 2.5 0 1 0 -5 0zM478.31 374.24a2.5 2.5 0 1 0 5 0a2.5 2.5 0 1 0 -5 0zM482.02 397.51a2.5 2.5 0 1 0 5 0a2.5 2.5 0 1 0 -5 0zM485.73 397.51a2.5 2.5 0 1 0 5 0a2.5 2.5 0 1 0 -5 0zM489.44 397.06a2.5 2.5 0 1 0 5 0a2.5 2.5 0 1 0 -5 0zM493.15 405.14a2.5 2.5 0 1 0 5 0a2.5 2.5 0 1 0 -5 0zM496.86 389.88a2.5 2.5 0 1 0 5 0a2.5 2.5 0 1 0 -5 0zM500.57 397.51a2.5 2.5 0 1 0 5 0a2.5 2.5 0 1 0 -5 0zM504.28 359.36a2.5 2.5 0 1 0 5 0a2.5 2.5 0 1 0 -5 0zM507.99 374.62a2.5 2.5 0 1 0 5 0a2.5 2.5 0 1 0 -5 0zM511.70 397.82a2.5 2.5 0 1 0 5 0a2.5 2.5 0 1 0 -5 0zM515.41 397.82a2.5 2.5 0 1 0 5 0a2.5 2.5 0 1 0 -5 0zM519.12 367.22a2.5 2.5 0 1 0 5 0a2.5 2.5 0 1 0 -5 0zM522.83 457.03a2.5 2.5 0 1 0 5 0a2.5 2.5 0 1 0 -5 0zM526.54 426.20a2.5 2.5 0 1 0 5 0a2.5 2.5 0 1 0 -5 0zM530.25 400.95a2.5 2.5 0 1 0 5 0a2.5 2.5 0 1 0 -5 0zM533.96 426.20a2.5 2.5 0 1 0 5 0a2.5 2.5 0 1 0 -5 0zM537.67 396.75a2.5 2.5 0 1 0 5 0a2.5 2.5 0 1 0 -5 0zM541.38 397.51a2.5 2.5 0 1 0 5 0a2.5 2.5 0 1 0 -5 0zM545.09 396.22a2.5 2.5 0 1 0 5 0a2.5 2.5 0 1 0 -5 0zM548.80 382.41a2.5 2.5 0 1 0 5 0a2.5 2.5 0 1 0 -5 0zM552.51 403.77a2.5 2.5 0 1 0 5 0a2.5 2.5 0 1 0 -5 0zM556.22 396.75a2.5 2.5 0 1 0 5 0a2.5 2.5 0 1 0 -5 0zM559.93 366.99a2.5 2.5 0 1 0 5 0a2.5 2.5 0 1 0 -5 0zM563.64 382.25a2.5 2.5 0 1 0 5 0a2.5 2.5 0 1 0 -5 0zM567.35 390.26a2.5 2.5 0 1 0 5 0a2.5 2.5 0 1 0 -5 0zM571.06 397.06a2.5 2.5 0 1 0 5 0a2.5 2.5 0 1 0 -5 0zM574.77 366.99a2.5 2.5 0 1 0 5 0a2.5 2.5 0 1 0 -5 0zM578.48 394.46a2.5 2.5 0 1 0 5 0a2.5 2.5 0 1 0 -5 0zM582.19 336.47a2.5 2.5 0 1 0 5 0a2.5 2.5 0 1 0 -5 0zM585.90 397.51a2.5 2.5 0 1 0 5 0a2.5 2.5 0 1 0 -5 0zM589.61 382.56a2.5 2.5 0 1 0 5 0a2.5 2.5 0 1 0 -5 0zM593.32 426.74a2.5 2.5 0 1 0 5 0a2.5 2.5 0 1 0 -5 0zM597.03 434.14a2.5 2.5 0 1 0 5 0a2.5 2.5 0 1 0 -5 0zM600.74 464.35a2.5 2.5 0 1 0 5 0a2.5 2.5 0 1 0 -5 0zM604.45 441.77a2.5 2.5 0 1 0 5 0a2.5 2.5 0 1 0 -5 0zM608.16 434.14a2.5 2.5 0 1 0 5 0a2.5 2.5 0 1 0 -5 0zM611.87 396.75a2.5 2.5 0 1 0 5 0a2.5 2.5 0 1 0 -5 0zM615.58 391.41a2.5 2.5 0 1 0 5 0a2.5 2.5 0 1 0 -5 0zM619.29 382.56a2.5 2.5 0 1 0 5 0a2.5 2.5 0 1 0 -5 0zM623.00 359.74a2.5 2.5 0 1 0 5 0a2.5 2.5 0 1 0 -5 0z"/>
<path fill="none" stroke="#1763dd" stroke-width="1.05" d="M410.99 453.77L413.36 465.24M414.48 465.20L417.29 444.65M418.29 438.13L420.90 422.51M422.05 416.01L424.56 402.59M426.63 396.39L427.40 394.82M429.59 388.65L431.86 378.61M440.86 370.18L442.85 377.54M444.82 377.62L446.31 373.46M448.09 373.58L450.46 385.12M456.17 390.68L457.22 388.32M459.10 382.05L461.71 366.43M462.74 366.44L465.49 385.40M467.05 391.78L468.60 396.23M470.50 396.15L472.57 388.12M478.34 384.54L479.57 381.50M481.19 381.72L484.14 406.75M485.97 407.06L486.78 405.43M496.94 399.43L498.07 396.74M503.49 388.29L506.36 366.22M507.33 366.20L509.94 381.67M511.66 388.01L513.03 391.60M514.98 397.90L517.13 406.82M518.33 406.75L521.20 384.15M521.80 384.17L525.15 445.95M525.73 445.97L528.64 422.15M529.57 415.62L532.22 399.47M533.35 399.46L535.86 412.96M536.85 412.93L539.78 388.58M540.66 388.57L543.39 406.76M545.48 407.14L545.99 406.20M548.75 400.22L550.14 396.48M559.25 392.96L561.90 376.66M563.30 376.59L565.27 383.80M567.49 389.99L568.50 392.21M574.08 393.49L576.75 376.66M578.51 376.46L579.74 379.50M581.34 379.28L584.33 352.04M584.89 352.05L588.20 405.36M588.97 405.40L591.54 390.84M592.49 390.87L595.44 416.36M597.30 422.59L598.05 424.09M599.92 430.32L602.85 455.12M603.72 455.14L606.47 436.56M608.63 430.46L608.98 429.88M611.04 423.76L613.99 398.50M619.36 389.89L620.51 387.13M622.43 380.85L624.86 368.48"/>
<path fill="#1763dd" d="M406.61 447.44l3.2 5.2h-6.4zM410.32 447.44l3.2 5.2h-6.4zM414.03 465.37l3.2 5.2h-6.4zM417.74 438.29l3.2 5.2h-6.4zM421.45 416.16l3.2 5.2h-6.4zM425.16 396.24l3.2 5.2h-6.4zM428.87 388.77l3.2 5.2h-6.4zM432.58 372.29l3.2 5.2h-6.4zM436.29 367.25l3.2 5.2h-6.4zM440.00 363.89l3.2 5.2h-6.4zM443.71 377.63l3.2 5.2h-6.4zM447.42 367.25l3.2 5.2h-6.4zM451.13 385.26l3.2 5.2h-6.4zM454.84 390.60l3.2 5.2h-6.4zM458.55 382.20l3.2 5.2h-6.4zM462.26 360.08l3.2 5.2h-6.4zM465.97 385.56l3.2 5.2h-6.4zM469.68 396.24l3.2 5.2h-6.4zM473.39 381.82l3.2 5.2h-6.4zM477.10 384.49l3.2 5.2h-6.4zM480.81 375.34l3.2 5.2h-6.4zM484.52 406.93l3.2 5.2h-6.4zM488.23 399.37l3.2 5.2h-6.4zM491.94 395.48l3.2 5.2h-6.4zM495.65 399.37l3.2 5.2h-6.4zM499.36 390.60l3.2 5.2h-6.4zM503.07 388.46l3.2 5.2h-6.4zM506.78 359.85l3.2 5.2h-6.4zM510.49 381.82l3.2 5.2h-6.4zM514.20 391.59l3.2 5.2h-6.4zM517.91 406.93l3.2 5.2h-6.4zM521.62 377.78l3.2 5.2h-6.4zM525.33 446.14l3.2 5.2h-6.4zM529.04 415.78l3.2 5.2h-6.4zM532.75 393.12l3.2 5.2h-6.4zM536.46 413.11l3.2 5.2h-6.4zM540.17 382.20l3.2 5.2h-6.4zM543.88 406.93l3.2 5.2h-6.4zM547.59 400.21l3.2 5.2h-6.4zM551.30 390.29l3.2 5.2h-6.4zM555.01 395.94l3.2 5.2h-6.4zM558.72 393.12l3.2 5.2h-6.4zM562.43 370.30l3.2 5.2h-6.4zM566.14 383.88l3.2 5.2h-6.4zM569.85 392.12l3.2 5.2h-6.4zM573.56 393.65l3.2 5.2h-6.4zM577.27 370.30l3.2 5.2h-6.4zM580.98 379.46l3.2 5.2h-6.4zM584.69 345.66l3.2 5.2h-6.4zM588.40 405.55l3.2 5.2h-6.4zM592.11 384.49l3.2 5.2h-6.4zM595.82 416.54l3.2 5.2h-6.4zM599.53 423.94l3.2 5.2h-6.4zM603.24 455.30l3.2 5.2h-6.4zM606.95 430.20l3.2 5.2h-6.4zM610.66 423.94l3.2 5.2h-6.4zM614.37 392.12l3.2 5.2h-6.4zM618.08 389.83l3.2 5.2h-6.4zM621.79 380.98l3.2 5.2h-6.4zM625.50 362.14l3.2 5.2h-6.4z"/>
<rect x="599.40" y="279.40" width="67.90" height="37.80" fill="#fff" stroke="#9a9a9a" stroke-width="0.9"/>
<path stroke="#404040" stroke-width="1.05" d="M600.90 286.70H609.00M615.00 286.70H623.10"/>
<path fill="#404040" d="M609.80 284.50h4.4v4.4h-4.4z"/>
<text x="625.80" y="290.00" font-family="Liberation Serif, serif" font-size="9.77" fill="#1e1e1e" stroke="#1e1e1e" stroke-width="0.15">True</text>
<path stroke="#ee2c33" stroke-width="1.05" d="M600.90 298.90H609.00M615.00 298.90H623.10"/>
<path fill="#ee2c33" d="M609.50 298.90a2.5 2.5 0 1 0 5 0a2.5 2.5 0 1 0 -5 0z"/>
<text x="625.80" y="302.20" font-family="Liberation Serif, serif" font-size="9.77" fill="#1e1e1e" stroke="#1e1e1e" stroke-width="0.15">SSA-SVR</text>
<path stroke="#1763dd" stroke-width="1.05" d="M600.90 310.90H609.00M615.00 310.90H623.10"/>
<path fill="#1763dd" d="M612.00 307.90l3.2 5h-6.4z"/>
<text x="625.80" y="314.20" font-family="Liberation Serif, serif" font-size="9.77" fill="#1e1e1e" stroke="#1e1e1e" stroke-width="0.15">GA-SVR</text>
</svg>
</body></html>
